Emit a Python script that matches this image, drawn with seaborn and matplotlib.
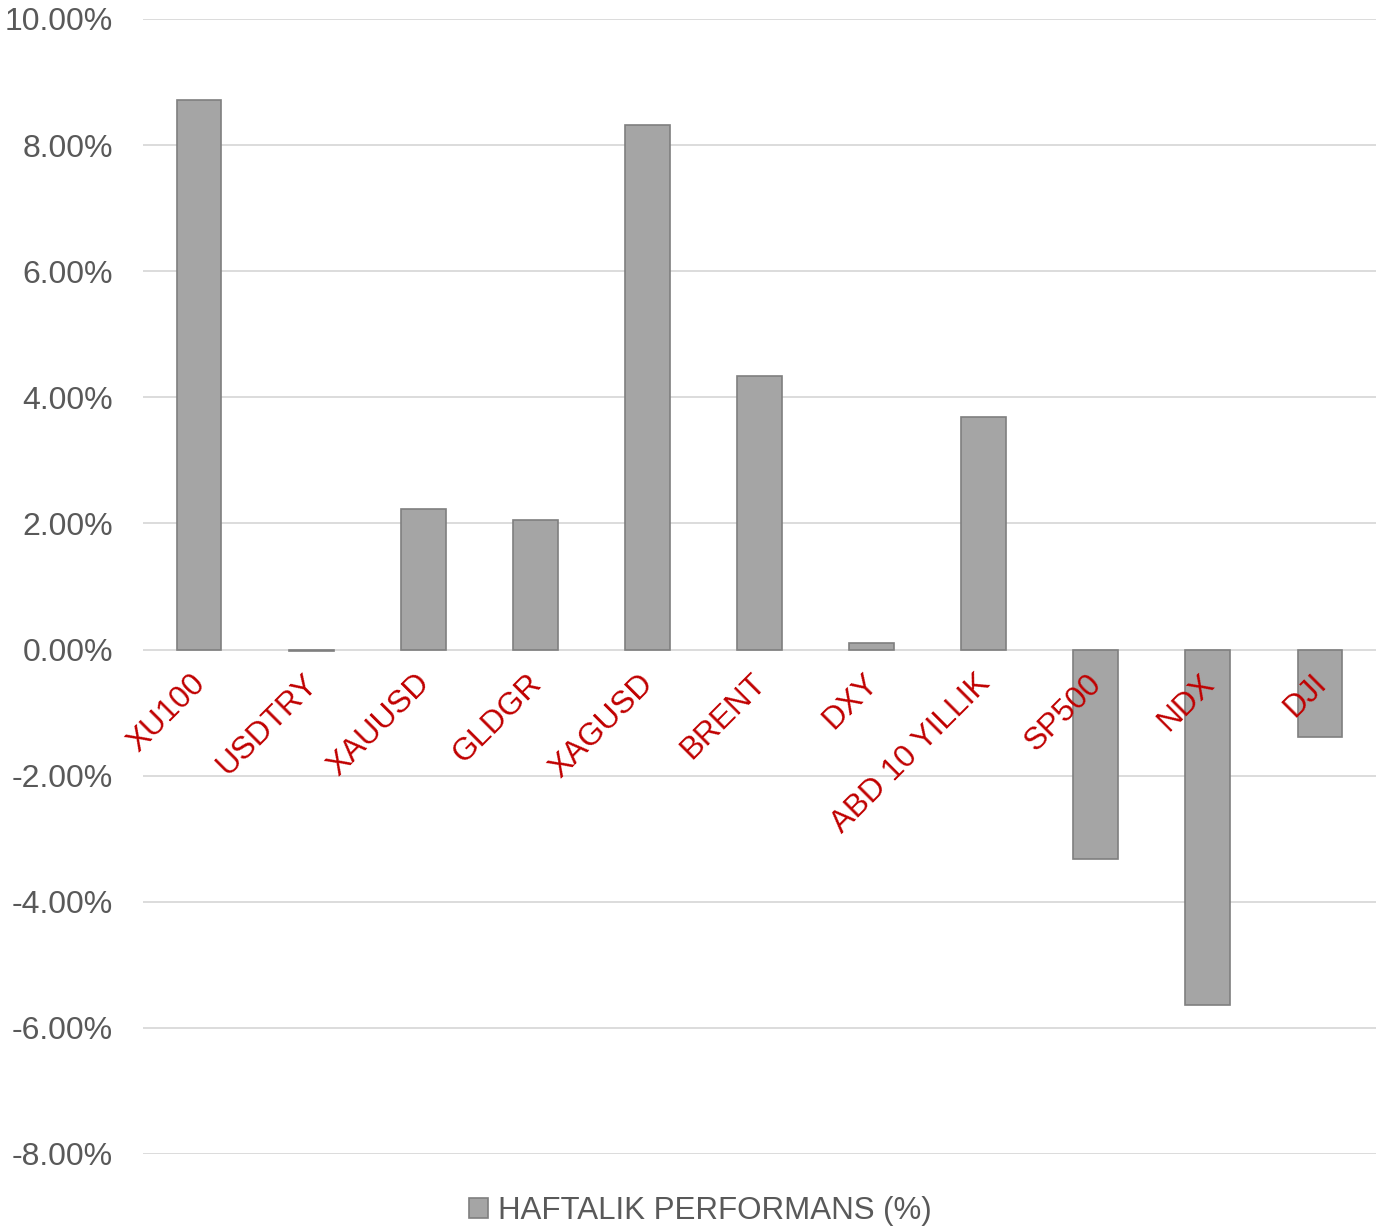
import matplotlib
matplotlib.use("Agg")
import matplotlib.pyplot as plt
import matplotlib.ticker as ticker
from matplotlib.patches import Patch
import seaborn as sns
import pandas as pd

sns.set_theme(style="white")
plt.rcParams['font.family'] = ['Liberation Sans', 'DejaVu Sans']

# data (weekly performance, %)
enstrumanlar = ['XU100', 'USDTRY', 'XAUUSD', 'GLDGR', 'XAGUSD', 'BRENT',
                'DXY', 'ABD 10 YILLIK', 'SP500', 'NDX', 'DJI']
performans = [8.72, -0.03, 2.23, 2.06, 8.32, 4.34, 0.11, 3.69, -3.33, -5.63, -1.39]
y_ticks = [-8, -6, -4, -2, 0, 2, 4, 6, 8, 10]
seri_adi = 'HAFTALIK PERFORMANS (%)'

df = pd.DataFrame({'Enstruman': enstrumanlar, 'Performans': performans})

fig = plt.figure(figsize=(13.87, 12.31), dpi=100)
ax = fig.add_axes([0.1031, 0.0626, 0.889, 0.922])

sns.barplot(data=df, x='Enstruman', y='Performans', color='#A5A5A5',
            saturation=1, width=0.4, edgecolor='#7F7F7F', linewidth=1.2, ax=ax)

ax.set_ylim(-8, 10)
ax.set_xlim(-0.5, len(enstrumanlar) - 0.5)
ax.set_yticks(y_ticks)
ax.yaxis.set_major_formatter(ticker.FuncFormatter(lambda v, p: f"{v:.2f}%"))
ax.tick_params(axis='y', labelsize=23, colors='#595959', length=0, pad=21.5)
ax.set_xticks([])
ax.set_xlabel('')
ax.set_ylabel('')
ax.grid(axis='y', color='#D9D9D9', linewidth=1.3)
ax.set_axisbelow(True)
for s in ax.spines.values():
    s.set_visible(False)

# category labels sit just under the zero line, rotated
for i, ad in enumerate(enstrumanlar):
    ax.text(i - 0.08, -0.3, ad, rotation=45, rotation_mode='anchor',
            ha='right', va='top', fontsize=22.7, color='#C00000')

handle = Patch(facecolor='#A5A5A5', edgecolor='#7F7F7F', linewidth=1.2)
fig.legend([handle], [seri_adi], loc='center', bbox_to_anchor=(0.505, 0.016),
           frameon=False, fontsize=22.5, labelcolor='#595959',
           handlelength=0.6, handleheight=0.6, handletextpad=0.3)

fig.savefig('out.png', dpi=100)
